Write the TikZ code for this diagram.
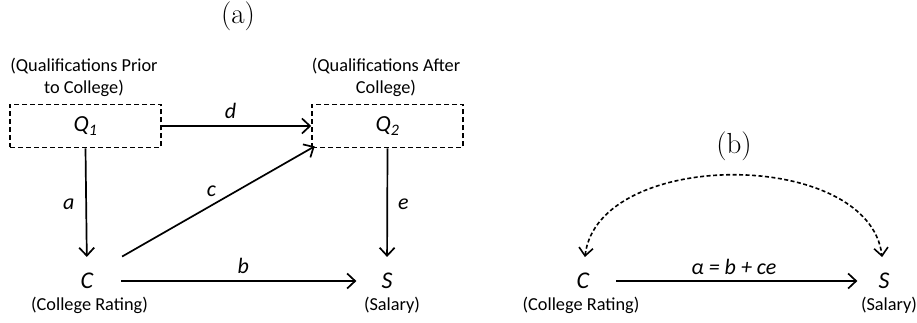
\documentclass[tikz,border=0pt]{standalone}
\usepackage{fontspec}
\newfontfamily\calib{Carlito}
\usetikzlibrary{arrows.meta}
\begin{document}
\begin{tikzpicture}[x=1pt,y=-1pt,
  note/.style={font=\calib\fontsize{18.3}{22}\selectfont, align=center, inner sep=0},
  var/.style={font=\calib\itshape\fontsize{24}{26}\selectfont, inner sep=0},
  lbl/.style={font=\calib\itshape\fontsize{22}{24}\selectfont, inner sep=0},
  title/.style={font=\fontsize{29}{32}\selectfont, inner sep=0},
  qbox/.style={draw, dash pattern=on 5pt off 3pt, line width=1.6pt, minimum width=151pt, minimum height=43pt, inner sep=0, font=\calib\itshape\fontsize{23}{26}\selectfont},
  arr/.style={line width=1.7pt, -{Straight Barb[length=8pt,width=15pt,line width=1.7pt]}},
  darr/.style={line width=1.6pt, dash pattern=on 4pt off 2.5pt, {Straight Barb[length=8pt,width=14pt,line width=1.6pt]}-{Straight Barb[length=8pt,width=14pt,line width=1.6pt]}}
]
\useasboundingbox (0,0) rectangle (917,323);

% panel (a)
\node[title] (ta) at (238,16) {(a)};
\node[qbox] (q1) at (85.5,126) {Q\textsubscript{\fontsize{16}{17}\selectfont 1}};
\node[qbox] (q2) at (387.5,126) {Q\textsubscript{\fontsize{16}{17}\selectfont 2}};
\node[note] (n1) at (84,77) {(Qualifications Prior\\to College)};
\node[note] (n2) at (386,77) {(Qualifications After\\College)};
\node[var] (c1) at (87,281) {C};
\node[var] (s1) at (387,281) {S};
\node[note] (cr1) at (89.5,305) {(College Rating)};
\node[note] (sl1) at (392,305) {(Salary)};

\draw[arr] (q1.east) -- node[lbl, above=6pt, pos=0.46] (ld) {d} (q2.west);
\draw[arr, shorten >=16pt] (q1.south) -- node[lbl, pos=0.45, left=11pt] (la) {a} (c1.north);
\draw[arr, shorten >=16pt] (q2.south) -- node[lbl, pos=0.45, right=10pt] (le) {e} (s1.north);
\draw[arr, shorten <=28pt, shorten >=25pt] (c1.east) -- node[lbl, above=7pt, pos=0.52] (lb) {b} (s1.west);
\draw[arr, shorten <=33pt, shorten >=-4pt] (c1.north east) -- node[lbl, pos=0.58, above left=3pt] (lc) {c} (q2.south west);

% panel (b)
\node[title] (tb) at (734,146) {(b)};
\node[var] (c2) at (583,281) {C};
\node[var] (s2) at (884,281) {S};
\node[note] (cr2) at (581,305) {(College Rating)};
\node[note] (sl2) at (889,305) {(Salary)};
\draw[arr, shorten <=27pt, shorten >=21pt] (c2.east) -- node[lbl, above=6pt] (lalpha) {α = b + ce} (s2.west);
\draw[darr, shorten <=16pt, shorten >=16pt] (c2.north) .. controls +(15,-125) and +(-15,-125) .. (s2.north);
\end{tikzpicture}
\end{document}
